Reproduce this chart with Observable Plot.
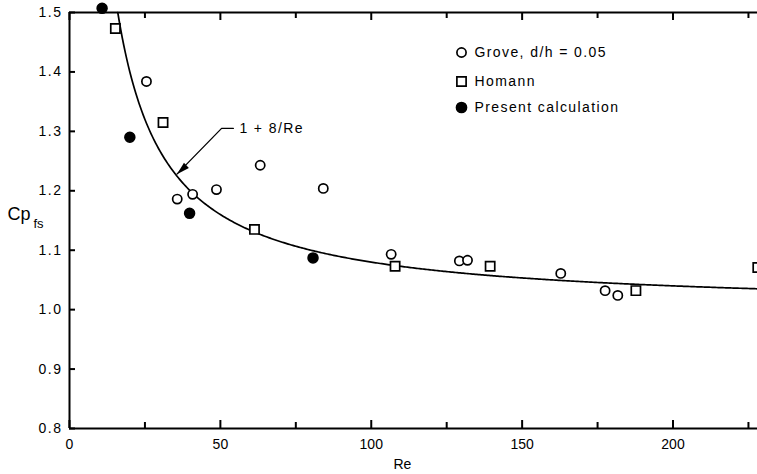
<!DOCTYPE html>
<html><head><meta charset="utf-8">
<script src="https://cdn.jsdelivr.net/npm/d3@7"></script>
<script src="https://cdn.jsdelivr.net/npm/@observablehq/plot@0.6"></script>
<style>body{margin:0;background:#fff} svg{display:block}</style>
</head><body><div id="chart"></div>
<script>
// Data
const groveRe = [25.5, 35.7, 40.8, 48.7, 63.2, 84.1, 106.6, 129.2, 131.9, 162.8, 177.5, 181.7];
const groveCp = [1.384, 1.186, 1.194, 1.202, 1.243, 1.204, 1.093, 1.082, 1.083, 1.061, 1.032, 1.024];
const homannRe = [15.2, 31.0, 61.3, 107.9, 139.4, 187.7, 228.1];
const homannCp = [1.473, 1.315, 1.135, 1.073, 1.073, 1.032, 1.071];
const presentRe = [10.8, 20.0, 39.8, 80.7];
const presentCp = [1.507, 1.290, 1.162, 1.087];
const xTickValues = [0, 50, 100, 150, 200];
const xMinorTicks = [25, 75, 125, 175, 225];
const yTickValues = [0.8, 0.9, 1.0, 1.1, 1.2, 1.3, 1.4, 1.5];
const legendLabels = ["Grove, d/h = 0.05", "Homann", "Present calculation"];
const curveLabel = "1 + 8/Re";
const xLabel = "Re";
// theoretical curve 1 + 8/Re, sampled along Re
const curveRe = d3.range(16, 228.5, 0.5);
// annotation leader (data coordinates)
const leaderRe = [54.3, 50.4, 35.6];
const leaderCp = [1.305, 1.305, 1.228];

const W = 757, H = 474, mL = 69, mR = 0, mT = 12, mB = 46;
const fw = W - mL - mR, fh = H - mT - mB;

const grove = groveRe.map((x, i) => ({x, y: groveCp[i]}));
const homann = homannRe.map((x, i) => ({x, y: homannCp[i]}));
const present = presentRe.map((x, i) => ({x, y: presentCp[i]}));
const leader = leaderRe.map((x, i) => ({x, y: leaderCp[i]}));

const arrowHead = {draw(ctx) { ctx.moveTo(0, 0); ctx.lineTo(3.6, 13); ctx.lineTo(-3.6, 13); ctx.closePath(); }};
const font = "'Liberation Sans', Arial, sans-serif";
const legendSyms = [
  {symbol: "circle", r: 4.6, fill: "white", stroke: "black"},
  {symbol: "square", r: 5.2, fill: "white", stroke: "black"},
  {symbol: "circle", r: 5, fill: "black", stroke: "black"}
];

const legendMarks = legendLabels.flatMap((lab, i) => [
  Plot.dot([lab], {frameAnchor: "top-left", dx: 392, dy: 40 + [0, 29, 55][i], ...legendSyms[i], strokeWidth: 1.7}),
  Plot.text([lab], {text: d => d, frameAnchor: "top-left", dx: 405, dy: 40 + [0, 29, 55][i], textAnchor: "start", lineAnchor: "middle", fontSize: 14, fill: "black"})
]);

const chart = Plot.plot({
  width: W, height: H,
  marginLeft: mL, marginRight: mR, marginTop: mT, marginBottom: mB,
  style: {fontFamily: font, background: "white", color: "black", overflow: "visible"},
  x: {domain: [0, 228]},
  y: {domain: [0.8, 1.5]},
  marks: [
    // frame lines
    Plot.ruleX([0], {stroke: "black", strokeWidth: 2}),
    Plot.ruleY([0.8], {stroke: "black", strokeWidth: 2}),
    Plot.ruleY([1.5], {stroke: "black", strokeWidth: 2}),
    // inward ticks
    Plot.tickY(yTickValues, {y: d => d, insetRight: fw - 6, stroke: "black", strokeWidth: 2}),
    Plot.tickX(xTickValues, {x: d => d, insetTop: fh - 8, stroke: "black", strokeWidth: 2}),
    Plot.tickX(xMinorTicks, {x: d => d, insetTop: fh - 6, stroke: "black", strokeWidth: 2}),
    Plot.tickX(xTickValues, {x: d => d, insetBottom: fh - 8, stroke: "black", strokeWidth: 2}),
    Plot.tickX(xMinorTicks, {x: d => d, insetBottom: fh - 6, stroke: "black", strokeWidth: 2}),
    // tick labels
    Plot.axisY({ticks: yTickValues, tickSize: 0, tickPadding: 7, tickFormat: d3.format(".1f"), label: null, fontSize: 14}),
    Plot.axisX({ticks: xTickValues, tickSize: 0, tickPadding: 11, tickFormat: d3.format("d"), label: null, fontSize: 14}),
    // axis titles
    Plot.text([xLabel], {text: d => d, frameAnchor: "bottom-left", dx: 324, dy: 40, lineAnchor: "bottom", fontSize: 14, fill: "black"}),
    Plot.text(["Cp"], {text: d => d, frameAnchor: "left", dx: 7 - mL, dy: -1, textAnchor: "start", lineAnchor: "bottom", fontSize: 18, fill: "black"}),
    Plot.text(["fs"], {text: d => d, frameAnchor: "left", dx: 33 - mL, dy: 7, textAnchor: "start", lineAnchor: "bottom", fontSize: 13, fill: "black"}),
    // theoretical curve
    Plot.line(curveRe, {x: d => d, y: d => 1 + 8 / d, stroke: "black", strokeWidth: 1.7}),
    // annotation
    Plot.line(leader, {x: "x", y: "y", stroke: "black", strokeWidth: 1.3}),
    Plot.dot([leader[2]], {x: "x", y: "y", symbol: arrowHead, rotate: 227, fill: "black", stroke: "none", r: 5}),
    Plot.text([curveLabel], {text: d => d, x: 56.3, y: 1.305, textAnchor: "start", lineAnchor: "middle", fontSize: 14, fill: "black"}),
    // data
    Plot.dot(grove, {x: "x", y: "y", symbol: "circle", r: 4.6, fill: "white", stroke: "black", strokeWidth: 1.7}),
    Plot.dot(homann, {x: "x", y: "y", symbol: "square", r: 5.2, fill: "white", stroke: "black", strokeWidth: 1.7}),
    Plot.dot(present, {x: "x", y: "y", symbol: "circle", r: 5, fill: "black", stroke: "black"}),
    ...legendMarks
  ]
});
// widen the spaced lettering of the legend and curve label, and y tick labels
const spaced = new Set([...legendLabels, curveLabel]);
d3.select(chart).selectAll("text").each(function() {
  const t = this.textContent;
  if (spaced.has(t)) this.style.letterSpacing = "1.4px";
  else if (/^\d\.\d$/.test(t)) this.style.letterSpacing = "1.5px";
});
document.getElementById("chart").appendChild(chart);
</script>
</body></html>
